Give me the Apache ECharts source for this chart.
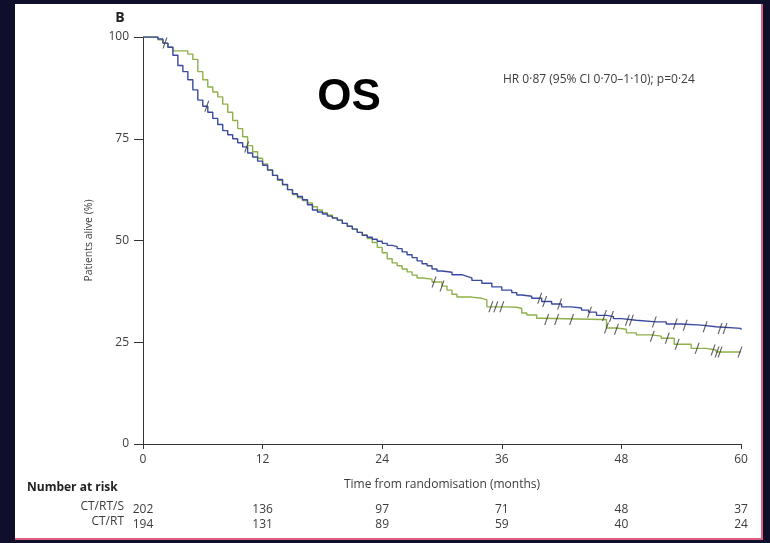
<!DOCTYPE html>
<html>
<head>
<meta charset="utf-8">
<script src="https://cdn.jsdelivr.net/npm/echarts@6/dist/echarts.min.js"></script>
<style>
html,body{margin:0;padding:0;background:#0f0f2c;}
#c{width:770px;height:543px;}
</style>
</head>
<body>
<div id="c"></div>
<script>
// Kaplan-Meier curve for CT/RT/S (blue)
const blueMonths = [0,1.0,1.5,2.0,2.5,3.0,3.5,4.0,4.5,5.0,5.5,6.0,6.5,7.0,7.5,8.0,8.5,9.0,9.5,10.0,10.5,11.0,11.5,12.0,12.5,13.0,13.5,14.0,14.5,15.0,15.5,16.0,16.5,17.0,17.5,18.0,18.5,19.0,19.5,20.0,20.5,21.0,21.5,22.0,22.5,23.0,23.5,24.0,24.5,25.0,25.5,26.0,26.5,27.0,27.5,28.0,28.5,29.0,29.5,30.0,31.0,32.0,32.5,33.0,34.0,35.0,36.0,37.0,37.5,38.0,39.0,40.0,41.0,42.0,43.0,44.0,44.7,45.5,46.5,47.2,48.0,49.5,51.5,52.5,54.0,56.0,57.5,60.0];
const bluePct    = [100,100,99.5,98.5,97.5,95.5,93.0,91.5,89.5,87.0,84.5,83.0,81.5,80.0,78.5,77.0,76.0,75.0,74.0,73.0,71.5,70.5,69.5,68.5,67.3,66.0,65.0,63.8,62.5,61.5,60.8,60.0,58.8,57.5,57.0,56.5,56.0,55.5,55.0,54.2,53.5,52.8,52.0,51.3,50.8,50.3,49.8,49.3,48.8,48.5,48.0,47.2,46.5,45.8,45.0,44.3,43.8,43.0,42.5,42.2,41.6,41.2,40.8,40.2,39.5,38.6,37.8,37.2,36.6,36.3,35.8,35.0,34.4,33.7,33.4,32.9,32.4,31.6,31.3,30.8,30.4,30.0,30.0,29.5,29.2,28.8,28.4,28.1];
// Kaplan-Meier curve for CT/RT (green)
const greenMonths = [0,1.0,1.5,2.0,2.5,3.0,4.0,4.5,5.0,5.5,6.0,6.5,7.0,7.5,8.0,8.5,9.0,9.5,10.0,10.5,11.0,11.5,12.0,12.5,13.0,13.5,14.0,14.5,15.0,15.5,16.0,16.5,17.0,17.5,18.0,18.5,19.0,19.5,20.0,20.5,21.0,21.5,22.0,22.5,23.0,23.5,24.0,24.5,25.0,25.5,26.0,26.5,27.0,27.5,28.0,29.0,30.0,30.5,31.0,31.5,33.0,34.0,34.5,36.5,37.5,38.0,38.5,39.5,40.0,46.0,46.5,47.5,48.5,49.5,51.0,52.0,53.3,55.0,56.5,57.5,60.0];
const greenPct    = [100,100,99.3,98.5,97.5,96.6,96.6,95.8,94.5,91.5,89.5,87.7,86.5,85.3,83.5,81.5,79.5,77.5,75.5,73.3,71.8,70.2,68.8,67.4,66.0,64.8,63.6,62.5,61.3,60.5,59.8,59.2,58.3,57.5,56.8,56.2,55.6,55.0,54.2,53.5,52.8,52.0,51.3,50.5,49.5,48.3,47.0,45.5,44.5,43.8,43.0,42.3,41.5,40.8,40.5,39.8,38.8,37.8,36.8,36.1,35.8,35.4,33.7,33.6,33.3,32.2,31.7,30.9,30.6,30.6,28.5,28.2,27.3,26.8,26.5,26.0,24.5,23.5,23.1,22.6,22.6];
// censoring times (months)
const blueCensor  = [2.2,6.4,10.4,39.8,40.3,41.8,44.8,46.3,47.0,48.6,49.0,51.3,53.4,54.4,56.4,57.9,58.4];
const greenCensor = [29.2,30.0,34.9,35.4,36.0,40.5,41.5,43.0,46.5,47.5,51.1,52.6,53.6,55.6,57.2,57.6,57.9,59.9];
// axes
const xTicks = [0,12,24,36,48,60];
const yTicks = [0,25,50,75,100];
// numbers at risk
const riskGroups = ['CT/RT/S','CT/RT'];
const riskBlue  = [202,136,97,71,48,37];
const riskGreen = [194,131,89,59,40,24];

const pairs = (m,p) => m.map((t,i)=>[t,p[i]]);
const stepAt = (m,p,t) => { let v=p[0]; for(let i=0;i<m.length;i++){ if(m[i]<=t) v=p[i]; } return v; };
const censorData = (cm,m,p) => cm.map(t=>[t, stepAt(m,p,t)]);

const FONT = 'Open Sans';
const TXT = '#3c3c3c';
const riskAxis = (vals, off) => ({
  type:'value', min:0, max:60, interval:12, position:'bottom', offset:off, gridIndex:0,
  axisLine:{show:false}, axisTick:{show:false}, splitLine:{show:false},
  axisLabel:{color:TXT, fontFamily:FONT, fontSize:12, margin:10,
    formatter:(v)=>{ const i = xTicks.indexOf(v); return i>=0 ? String(vals[i]) : ''; }}
});
const censorSymbol = 'path://M0,12 L4,0 L5.2,0 L1.2,12 Z';

const chart = echarts.init(document.getElementById('c'), null, {renderer:'canvas'});
chart.setOption({
  backgroundColor:'#0f0f2c',
  animation:false,
  grid:{left:143, right:29, top:37, bottom:99, containLabel:false},
  xAxis:[{
    type:'value', min:0, max:60, interval:12, position:'bottom',
    name:'Time from randomisation (months)', nameLocation:'middle', nameGap:35,
    nameTextStyle:{color:TXT, fontFamily:FONT, fontSize:12},
    axisLine:{show:true, onZero:false, lineStyle:{color:'#333', width:1}},
    axisTick:{show:true, inside:false, length:5, lineStyle:{color:'#333'}},
    axisLabel:{color:TXT, fontFamily:FONT, fontSize:12, margin:10},
    splitLine:{show:false}
  }, riskAxis(riskBlue, 50), riskAxis(riskGreen, 65)],
  yAxis:{
    type:'value', min:0, max:100, interval:25,
    name:'Patients alive (%)', nameLocation:'middle', nameGap:48,
    nameTextStyle:{color:TXT, fontFamily:FONT, fontSize:10.5},
    axisLine:{show:true, lineStyle:{color:'#333', width:1}},
    axisTick:{show:true, length:9, lineStyle:{color:'#333'}},
    axisLabel:{color:TXT, fontFamily:FONT, fontSize:12, margin:14},
    splitLine:{show:false}
  },
  graphic:[
    {type:'rect', z:-10, silent:true, shape:{x:15,y:4,width:747,height:535}, style:{fill:'#ffffff'}},
    {type:'line', z:-9, shape:{x1:762,y1:4,x2:762,y2:539}, style:{stroke:'#de5f80', lineWidth:2}},
    {type:'line', z:-9, shape:{x1:15,y1:539,x2:763,y2:539}, style:{stroke:'#de5f80', lineWidth:2}},
    {type:'text', x:120, y:18, style:{text:'B', font:'bold 14px "Open Sans"', fill:'#222', align:'center', verticalAlign:'middle'}},
    {type:'text', x:349, y:98, style:{text:'OS', font:'bold 44px "Liberation Sans"', fill:'#000', align:'center', verticalAlign:'middle'}},
    {type:'text', x:503, y:80, style:{text:'HR 0·87 (95% CI 0·70–1·10); p=0·24', font:'12px "Open Sans"', fill:TXT, align:'left', verticalAlign:'middle'}},
    {type:'text', x:27, y:488, style:{text:'Number at risk', font:'bold 12px "Open Sans"', fill:'#222', align:'left', verticalAlign:'middle'}},
    {type:'text', x:124, y:507, style:{text:riskGroups[0], font:'12px "Open Sans"', fill:TXT, align:'right', verticalAlign:'middle'}},
    {type:'text', x:124, y:522, style:{text:riskGroups[1], font:'12px "Open Sans"', fill:TXT, align:'right', verticalAlign:'middle'}}
  ],
  series:[
    {type:'line', name:'CT/RT', step:'end', showSymbol:false, data:pairs(greenMonths, greenPct),
      lineStyle:{color:'#8fb04a', width:1.4}, z:2},
    {type:'line', name:'CT/RT/S', step:'end', showSymbol:false, data:pairs(blueMonths, bluePct),
      lineStyle:{color:'#3a4a9f', width:1.4}, z:3},
    {type:'scatter', data:censorData(blueCensor, blueMonths, bluePct), symbol:censorSymbol, symbolSize:[5,11],
      itemStyle:{color:'#333'}, z:4},
    {type:'scatter', data:censorData(greenCensor, greenMonths, greenPct), symbol:censorSymbol, symbolSize:[5,11],
      itemStyle:{color:'#333'}, z:4}
  ]
});
</script>
</body>
</html>
